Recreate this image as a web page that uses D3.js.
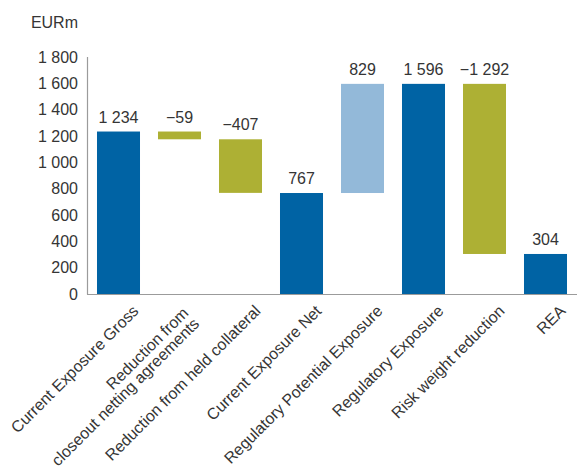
<!DOCTYPE html>
<html>
<head>
<meta charset="utf-8">
<script src="https://cdn.jsdelivr.net/npm/d3@7"></script>
<style>
  html, body { margin: 0; padding: 0; background: #fff; }
  svg { display: block; }
  text { font-family: "Liberation Sans", Arial, Helvetica, sans-serif; fill: #353535; }
</style>
</head>
<body>
<svg id="chart" width="577" height="471"></svg>
<script>
// ---- data ----
const categories = [
  "Current Exposure Gross",
  "Reduction from\ncloseout netting agreements",
  "Reduction from held collateral",
  "Current Exposure Net",
  "Regulatory Potential Exposure",
  "Regulatory Exposure",
  "Risk weight reduction",
  "REA"
];
const values = [1234, -59, -407, 767, 829, 1596, -1292, 304];
const kinds = ["total", "decrease", "decrease", "total", "increase", "total", "decrease", "total"];
const yTicks = [0, 200, 400, 600, 800, 1000, 1200, 1400, 1600, 1800];
const unitLabel = "EURm";

// ---- derived waterfall ----
let running = 0;
const bars = categories.map((c, i) => {
  let start, end;
  if (kinds[i] === "total") { start = 0; end = values[i]; }
  else { start = running; end = running + values[i]; }
  running = end;
  return { cat: c, value: values[i], kind: kinds[i], start, end };
});

const colors = { total: "#0063a4", decrease: "#adb034", increase: "#93b9d9" };

const svg = d3.select("#chart");
const x = d3.scaleBand().domain(categories).range([88, 576]).paddingInner(0.295).paddingOuter(0.1475);
const y = d3.scaleLinear().domain([0, 1800]).range([294, 57]);

const fmt = v => {
  const s = d3.format(",")(Math.abs(v)).replace(/,/g, " ");
  return (v < 0 ? "\u2212" : "") + s;
};

// bars
svg.append("g").selectAll("rect").data(bars).join("rect")
  .attr("x", d => x(d.cat))
  .attr("width", x.bandwidth())
  .attr("y", d => y(Math.max(d.start, d.end)))
  .attr("height", d => Math.abs(y(d.start) - y(d.end)))
  .attr("fill", d => colors[d.kind]);

// value labels
svg.append("g").selectAll("text").data(bars).join("text")
  .attr("x", d => x(d.cat) + x.bandwidth() / 2)
  .attr("y", d => y(Math.max(d.start, d.end)) - 9)
  .attr("text-anchor", "middle")
  .attr("font-size", 16)
  .text(d => fmt(d.value));

// axes lines
const axisColor = "#9b9b9b";
svg.append("line").attr("x1", 87.5).attr("x2", 87.5).attr("y1", y(1800)).attr("y2", y(0) + 0.5)
  .attr("stroke", axisColor).attr("stroke-width", 1.2);
svg.append("line").attr("x1", 87).attr("x2", 577).attr("y1", y(0) + 0.5).attr("y2", y(0) + 0.5)
  .attr("stroke", axisColor).attr("stroke-width", 1.2);

// y tick labels
svg.append("g").selectAll("text").data(yTicks).join("text")
  .attr("x", 78)
  .attr("y", d => y(d))
  .attr("dy", "0.36em")
  .attr("text-anchor", "end")
  .attr("font-size", 16)
  .text(d => d3.format(",")(d).replace(/,/g, " "));

// unit label
svg.append("text").attr("x", 78).attr("y", 28).attr("text-anchor", "end")
  .attr("font-size", 16).text(unitLabel);

// x labels rotated
const xl = svg.append("g").selectAll("text").data(categories).join("text")
  .attr("text-anchor", "end")
  .attr("font-size", 16)
  .attr("transform", d => {
    const n = d.split("\n").length - 1;
    const cx = x(d) + x.bandwidth() / 2 + 21 - 11 * n;
    const cy = 312 + 2 * n;
    return `translate(${cx},${cy}) rotate(-45)`;
  });
xl.each(function(d) {
  const lines = d.split("\n");
  const t = d3.select(this);
  lines.forEach((ln, i) => {
    t.append("tspan").attr("x", 0)
      .attr("dy", i === 0 ? 0 : "0.95em")
      .text(ln);
  });
});
</script>
</body>
</html>
